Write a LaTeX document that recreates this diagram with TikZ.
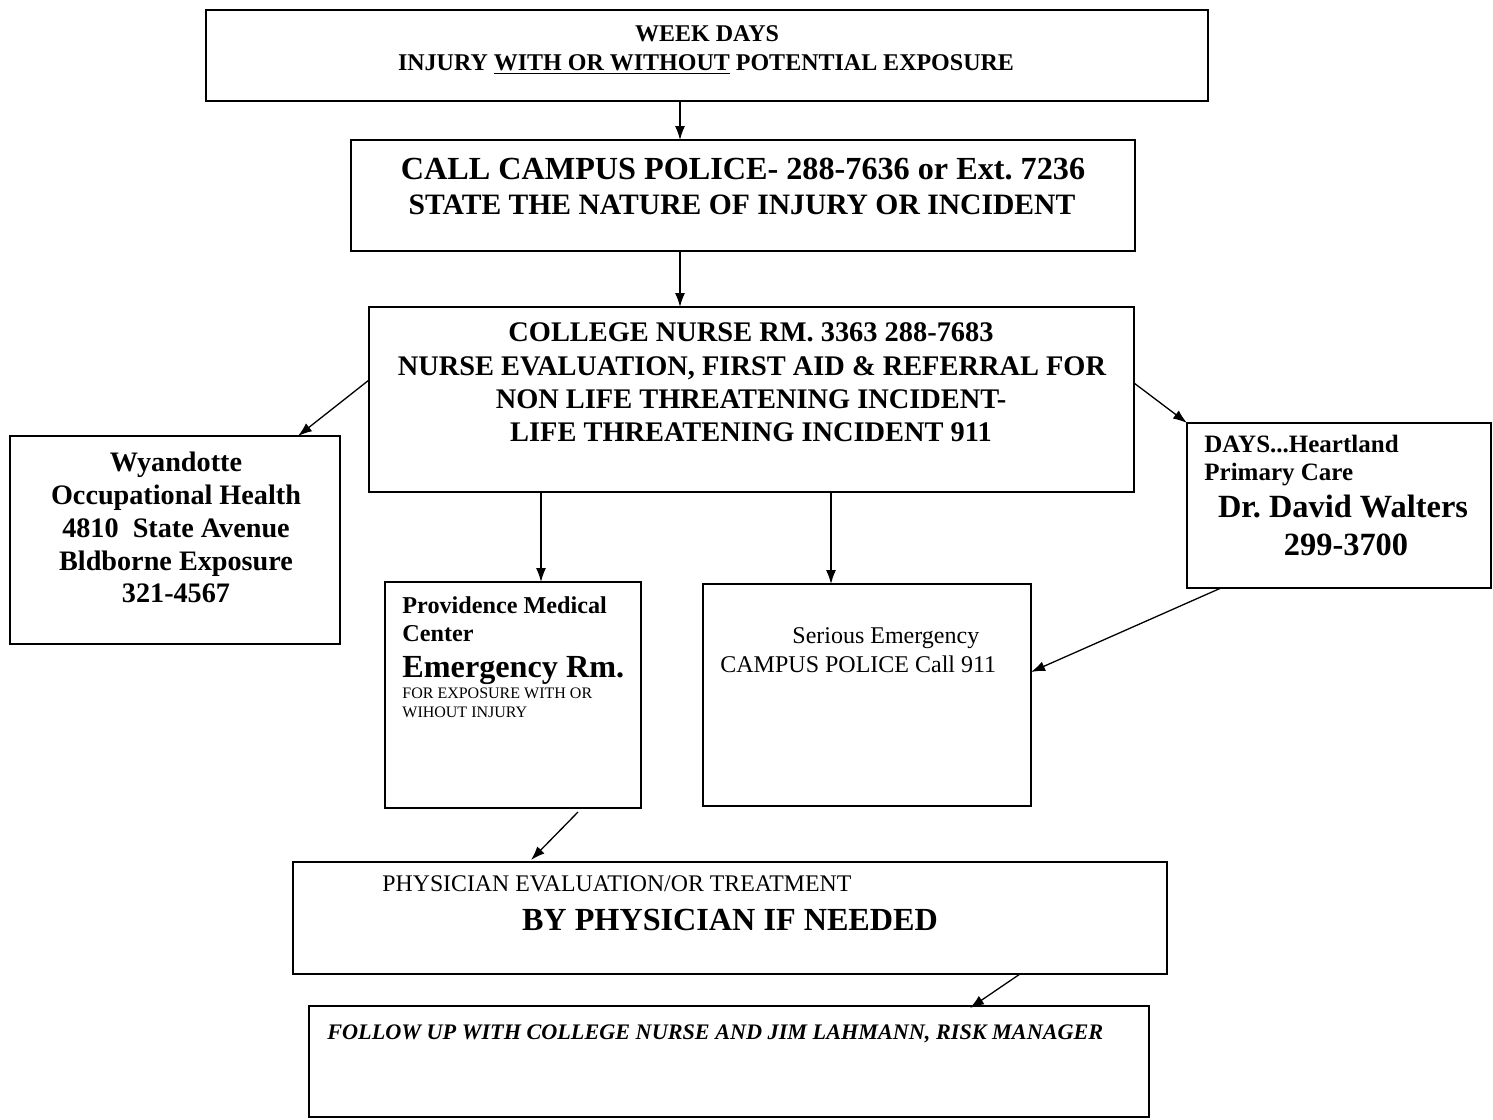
\documentclass[tikz,border=0pt]{standalone}
\usepackage{fontspec}
\setmainfont{Liberation Serif}
\usetikzlibrary{arrows.meta}
\tikzset{
  box/.style={draw, line width=1pt, inner sep=0pt, outer sep=0pt},
  arr/.style={line width=0.65pt, -{Latex[length=7pt,width=5pt]}},
  tc/.style={anchor=base, inner sep=0pt},
  tl/.style={anchor=base west, inner sep=0pt},
}
\newcommand{\fs}[1]{\fontsize{#1}{#1}\selectfont}
\begin{document}
\begin{tikzpicture}[x=0.5pt, y=-0.5pt]
\fill[white] (0,0) rectangle (1493,1119);
\useasboundingbox (0,0) rectangle (1493,1119);
% boxes
\node[box, minimum width=501pt, minimum height=45.5pt] (top) at (707,55.5) {};
\node[box, minimum width=392pt, minimum height=55.5pt] (call) at (743,195.5) {};
\node[box, minimum width=382.5pt, minimum height=92.5pt] (nurse) at (751.5,399.5) {};
\node[box, minimum width=165pt, minimum height=104pt] (wyan) at (175,540) {};
\node[box, minimum width=128pt, minimum height=113pt] (prov) at (513,695) {};
\node[box, minimum width=164pt, minimum height=111pt] (serious) at (867,695) {};
\node[box, minimum width=152pt, minimum height=82.5pt] (days) at (1339,505.5) {};
\node[box, minimum width=437pt, minimum height=56pt] (phys) at (730,918) {};
\node[box, minimum width=420pt, minimum height=55.5pt] (follow) at (729,1061.5) {};
% texts
\node[tc, font=\bfseries\fs{12}] (t1) at (707,41) {WEEK DAYS};
\node[tc, font=\bfseries\fs{12}] (t2) at (706,70) {INJURY \underline{WITH OR WITHOUT} POTENTIAL EXPOSURE};
\node[tc, font=\bfseries\fs{16.1}] (c1) at (743,179) {CALL CAMPUS POLICE- 288-7636 or Ext.\ 7236};
\node[tc, font=\bfseries\fs{14.8}] (c2) at (742,214) {STATE THE NATURE OF INJURY OR INCIDENT};
\node[tc, font=\bfseries\fs{14.2}] (n1) at (751,341) {COLLEGE NURSE RM.\ 3363 288-7683};
\node[tc, font=\bfseries\fs{14.2}] (n2) at (752,375) {NURSE EVALUATION, FIRST AID \& REFERRAL FOR};
\node[tc, font=\bfseries\fs{14.2}] (n3) at (751,408) {NON LIFE THREATENING INCIDENT-};
\node[tc, font=\bfseries\fs{14.2}] (n4) at (751,441) {LIFE THREATENING INCIDENT 911};
\node[tc, font=\bfseries\fs{14.1}] (w1) at (176,471) {Wyandotte};
\node[tc, font=\bfseries\fs{14.1}] (w2) at (176,504) {Occupational Health};
\node[tc, font=\bfseries\fs{14.1}] (w3) at (176,537) {4810\ \ State Avenue};
\node[tc, font=\bfseries\fs{14.1}] (w4) at (176,570) {Bldborne Exposure};
\node[tc, font=\bfseries\fs{14.1}] (w5) at (176,602) {321-4567};
\node[tl, font=\bfseries\fs{12.1}] (p1) at (402,613) {Providence Medical};
\node[tl, font=\bfseries\fs{12.1}] (p2) at (402,641) {Center};
\node[tl, font=\bfseries\fs{16.1}] (p3) at (402,677) {Emergency Rm.};
\node[tl, font=\fs{8}] (p4) at (402,698) {FOR EXPOSURE WITH OR};
\node[tl, font=\fs{8}] (p5) at (402,717) {WIHOUT INJURY};
\node[tl, font=\fs{12}] (s1) at (792,643) {Serious Emergency};
\node[tl, font=\fs{12}] (s2) at (720,672) {CAMPUS POLICE Call 911};
\node[tl, font=\bfseries\fs{12.5}] (d1) at (1204,452) {DAYS...Heartland};
\node[tl, font=\bfseries\fs{12.5}] (d2) at (1204,480) {Primary Care};
\node[tc, font=\bfseries\fs{16.2}] (d3) at (1343,517) {Dr.\ David Walters};
\node[tc, font=\bfseries\fs{16.2}] (d4) at (1346,555) {299-3700};
\node[tl, font=\fs{11.9}] (ph1) at (382,891) {PHYSICIAN EVALUATION/OR TREATMENT};
\node[tc, font=\bfseries\fs{16.1}] (ph2) at (730,930) {BY PHYSICIAN IF NEEDED};
\node[tl, font=\bfseries\itshape\fs{11.1}] (f1) at (327,1039) {FOLLOW UP WITH COLLEGE NURSE AND JIM LAHMANN, RISK MANAGER};
% connectors
\draw[arr] ([xshift=-13.5pt]top.south) -- ([xshift=-13.5pt]top.south |- call.north);
\draw[arr] ([xshift=-31.5pt]call.south) -- ([xshift=-31.5pt]call.south |- nurse.north);
\draw[arr] ([yshift=9.75pt]nurse.west) -- ([xshift=61.5pt]wyan.north);
\draw[arr] ([yshift=8.25pt]nurse.east) -- (days.north west);
\draw[arr] ([xshift=-105.25pt]nurse.south) -- ([xshift=-105.25pt]nurse.south |- prov.north);
\draw[arr] ([xshift=39.75pt]nurse.south) -- ([xshift=39.75pt]nurse.south |- serious.north);
\draw[arr] ([xshift=-59pt]days.south) -- ([yshift=11.5pt]serious.east);
\draw[arr] ([xshift=32.5pt,yshift=-2pt]prov.south) -- ([xshift=-99.5pt,yshift=1pt]phys.north);
\draw[arr] ([xshift=145pt]phys.south) -- ([xshift=120.5pt,yshift=-1pt]follow.north);
\end{tikzpicture}
\end{document}
